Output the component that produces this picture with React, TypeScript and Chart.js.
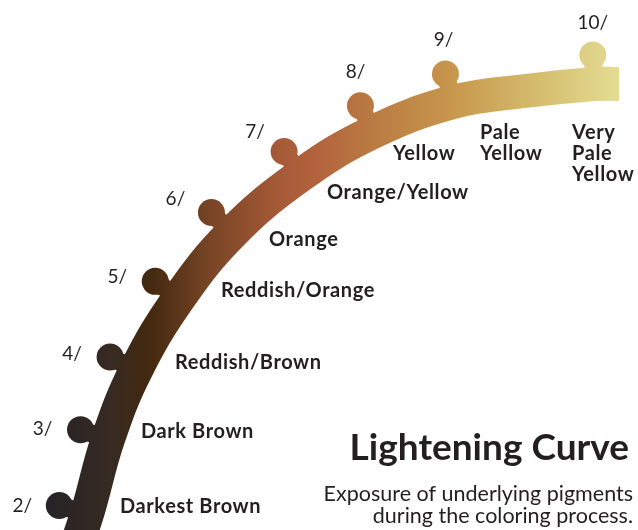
import React, { useEffect, useRef } from 'react';
import { Chart, registerables } from 'chart.js';
Chart.register(...registerables);

// ---- data ----
const curveX = [66, 87, 108, 136, 179, 232, 301, 373, 453, 525, 595, 619];
const curveY = [575, 514, 439, 370, 298, 233, 175, 132, 102, 91, 84, 84];
const levelNumbers = [2, 3, 4, 5, 6, 7, 8, 9, 10];
const levelCurveIndex = [1, 2, 3, 4, 5, 6, 7, 8, 10];
const categoryLines = [
  ['Darkest Brown'],
  ['Dark Brown'],
  ['Reddish/Brown'],
  ['Reddish/Orange'],
  ['Orange'],
  ['Orange/Yellow'],
  ['Yellow'],
  ['Pale', 'Yellow'],
  ['Very', 'Pale', 'Yellow'],
];
const titleText = 'Lightening Curve';
const subtitleLines = ['Exposure of underlying pigments', 'during the coloring process.'];

// ---- layout / style ----
const categoryAnchor = [
  [120, 513], [141, 438], [175, 369], [221, 297], [269, 246],
  [327, 199], [393, 160], [480, 139], [572, 139],
];
const levelLabelOffset = [
  [-37, 0], [-38, -1], [-38, -3], [-38, -4], [-36, -14],
  [-29, -20], [-5, -34], [-2, -34], [0, -32],
];
const KNOB_OFFSET = 29;
const KNOB_RADIUS = 13.5;
const NECK_WIDTH = 18;
const BAND_WIDTH = 34;
const TEXT = '#231f20';
const FONT = 'Lato, "Open Sans", sans-serif';
const gradStops: [number, string][] = [
  [50, '#272326'], [110, '#362a22'], [150, '#43290f'], [210, '#784526'],
  [280, '#a75a37'], [320, '#b3643d'], [370, '#b97a42'], [450, '#c7964c'],
  [530, '#d4b96a'], [619, '#e3dd93'],
];

const W = 638;
const H = 530;

let gradCache: { key: string; g: CanvasGradient } | null = null;
function getGradient(chart: any): CanvasGradient | string {
  const area = chart.chartArea;
  if (!area) return '#a05a35';
  const key = `${area.left}-${area.right}`;
  if (gradCache && gradCache.key === key) return gradCache.g;
  const xs = chart.scales.x;
  const g = chart.ctx.createLinearGradient(xs.getPixelForValue(0), 0, xs.getPixelForValue(W), 0);
  gradStops.forEach(([v, c]) => g.addColorStop(Math.min(1, Math.max(0, v / W)), c));
  gradCache = { key, g };
  return g;
}

function knobPoints() {
  return levelCurveIndex.map((i) => {
    const tx = curveX[i + 1] - curveX[i - 1];
    const ty = curveY[i + 1] - curveY[i - 1];
    const len = Math.hypot(tx, ty);
    const nx = ty / len;
    const ny = -tx / len;
    return { x: curveX[i] + KNOB_OFFSET * nx, y: curveY[i] + KNOB_OFFSET * ny };
  });
}

const decorPlugin = {
  id: 'decor',
  beforeDatasetsDraw(chart: any) {
    const ctx = chart.ctx;
    const curveMeta = chart.getDatasetMeta(0);
    const knobMeta = chart.getDatasetMeta(1);
    ctx.save();
    ctx.strokeStyle = getGradient(chart);
    ctx.lineWidth = NECK_WIDTH;
    ctx.lineCap = 'butt';
    levelCurveIndex.forEach((ci, k) => {
      const a = curveMeta.data[ci];
      const b = knobMeta.data[k];
      ctx.beginPath();
      ctx.moveTo(a.x, a.y);
      ctx.lineTo(b.x, b.y);
      ctx.stroke();
    });
    ctx.restore();
  },
  afterDraw(chart: any) {
    const ctx = chart.ctx;
    const xs = chart.scales.x;
    const ys = chart.scales.y;
    const knobMeta = chart.getDatasetMeta(1);
    ctx.save();
    ctx.fillStyle = TEXT;
    // level numbers
    ctx.font = `400 19px ${FONT}`;
    ctx.textAlign = 'center';
    ctx.textBaseline = 'middle';
    levelNumbers.forEach((n, k) => {
      const p = knobMeta.data[k];
      const [dx, dy] = levelLabelOffset[k];
      ctx.fillText(`${n}/`, p.x + dx, p.y + dy);
    });
    // categories
    ctx.font = `700 20px ${FONT}`;
    (ctx as any).letterSpacing = '0.6px';
    ctx.textAlign = 'left';
    ctx.textBaseline = 'alphabetic';
    categoryLines.forEach((lines, k) => {
      const [ax, ay] = categoryAnchor[k];
      lines.forEach((line, j) => {
        ctx.fillText(line, xs.getPixelForValue(ax), ys.getPixelForValue(ay) + j * 21);
      });
    });
    (ctx as any).letterSpacing = '0px';
    // title
    ctx.textAlign = 'right';
    ctx.font = `700 37px ${FONT}`;
    ctx.fillText(titleText, 629, 460);
    ctx.font = `400 21.5px ${FONT}`;
    subtitleLines.forEach((line, j) => ctx.fillText(line, 633, 501 + j * 22));
    ctx.restore();
  },
};

export default function App() {
  const ref = useRef<HTMLCanvasElement | null>(null);
  useEffect(() => {
    document.body.style.margin = '0';
    const canvas = ref.current;
    if (!canvas) return;
    gradCache = null;
    const chart = new Chart(canvas, {
      type: 'scatter',
      data: {
        datasets: [
          {
            data: curveX.map((x, i) => ({ x, y: curveY[i] })),
            showLine: true,
            borderWidth: BAND_WIDTH,
            borderColor: (c: any) => getGradient(c.chart),
            borderCapStyle: 'butt',
            borderJoinStyle: 'round',
            pointRadius: 0,
            pointHoverRadius: 0,
            tension: 0.4,
            clip: false,
          } as any,
          {
            data: knobPoints(),
            showLine: false,
            pointRadius: KNOB_RADIUS,
            pointHoverRadius: KNOB_RADIUS,
            pointBorderWidth: 0,
            borderWidth: 0,
            backgroundColor: (c: any) => getGradient(c.chart),
            pointBackgroundColor: (c: any) => getGradient(c.chart),
            clip: false,
          } as any,
        ],
      },
      options: {
        animation: false,
        responsive: false,
        devicePixelRatio: 1,
        events: [],
        layout: { padding: 0, autoPadding: false },
        plugins: { legend: { display: false }, tooltip: { enabled: false }, title: { display: false } },
        scales: {
          x: { type: 'linear', min: 0, max: W, display: false },
          y: { type: 'linear', min: 0, max: H, reverse: true, display: false },
        },
      } as any,
      plugins: [decorPlugin],
    });
    return () => chart.destroy();
  }, []);
  return (
    <div style={{ width: W, height: H }}>
      <canvas ref={ref} width={W} height={H} style={{ display: 'block' }} />
    </div>
  );
}
